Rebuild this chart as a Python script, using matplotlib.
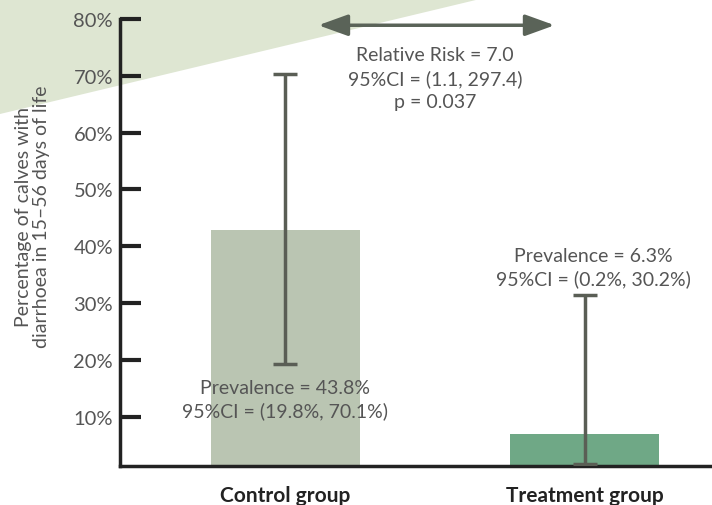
import matplotlib
matplotlib.use("Agg")
import matplotlib.pyplot as plt
from matplotlib.patches import Polygon

categories = ["Control group", "Treatment group"]
bar_values = [42.8, 7.0]
ci_low = [19.3, 1.6]
ci_high = [70.3, 31.4]
yticks = [10, 20, 30, 40, 50, 60, 70, 80]
ytick_labels = ["10%", "20%", "30%", "40%", "50%", "60%", "70%", "80%"]
bar_colors = ["#bac5b2", "#6fa886"]
prev_texts = ["Prevalence = 43.8%\n95%CI = (19.8%, 70.1%)",
              "Prevalence = 6.3%\n95%CI = (0.2%, 30.2%)"]
rr_text = "Relative Risk = 7.0\n95%CI = (1.1, 297.4)\np = 0.037"

plt.rcParams['font.family'] = ['Lato', 'DejaVu Sans']
TXT = "#555555"
W, H = 712, 506
fig = plt.figure(figsize=(W/100, H/100), dpi=100)

# background wedge
fig.patches.append(Polygon([(0, 1), (480/W, 1), (0, 1-115/H)], closed=True,
                           transform=fig.transFigure, facecolor="#dee6d2",
                           edgecolor="none", zorder=-10))

ax = fig.add_axes([120/W, (H-467)/H, (W-120)/W, (467-20)/H])
ax.set_zorder(5)
ax.patch.set_alpha(0)

x = [0, 1]
ax.bar(x, bar_values, width=0.5, color=bar_colors, bottom=0, zorder=2)
for xi, lo, hi in zip(x, ci_low, ci_high):
    ax.plot([xi, xi], [lo, hi], color="#5a5e55", lw=2.5, zorder=3, solid_capstyle="butt")
    for yv in (lo, hi):
        ax.plot([xi-0.04, xi+0.04], [yv, yv], color="#5a5e55", lw=2.5, zorder=3,
                solid_capstyle="butt")

ax.set_xlim(-0.553, 1.426)
ax.set_ylim(1.3, 80)
ax.set_yticks(yticks)
ax.set_yticklabels(ytick_labels)
ax.tick_params(axis='y', direction='in', length=15, width=3, color="#222222",
               labelsize=14.5, labelcolor=TXT, pad=5)
ax.set_xticks(x)
ax.set_xticklabels(categories, fontsize=15, fontweight='bold', color="#222222")
ax.tick_params(axis='x', length=0, pad=14)
for s in ["top", "right"]:
    ax.spines[s].set_visible(False)
for s in ["left", "bottom"]:
    ax.spines[s].set_linewidth(2.5)
    ax.spines[s].set_color("#222222")

ax.set_ylabel("Percentage of calves with\ndiarrhoea in 15–56 days of life",
              fontsize=14, color=TXT, linespacing=1.05)
ax.yaxis.set_label_coords(-0.118, 0.56)

# annotations
ax.text(0, 13.1, prev_texts[0], ha="center", va="center", fontsize=14,
        color=TXT, linespacing=1.4, zorder=4)
ax.text(1.03, 36.3, prev_texts[1], ha="center", va="center", fontsize=14,
        color=TXT, linespacing=1.4)
ax.text(0.5, 69.6, rr_text, ha="center", va="center", fontsize=14,
        color=TXT, linespacing=1.4)

ax.annotate("", xy=(0.11, 78.9), xytext=(0.9, 78.9),
            arrowprops=dict(arrowstyle="<|-|>,head_length=1.8,head_width=0.65",
                            color="#5a6358", lw=2.5, shrinkA=0, shrinkB=0),
            annotation_clip=False)

fig.savefig("out.png", dpi=100)
